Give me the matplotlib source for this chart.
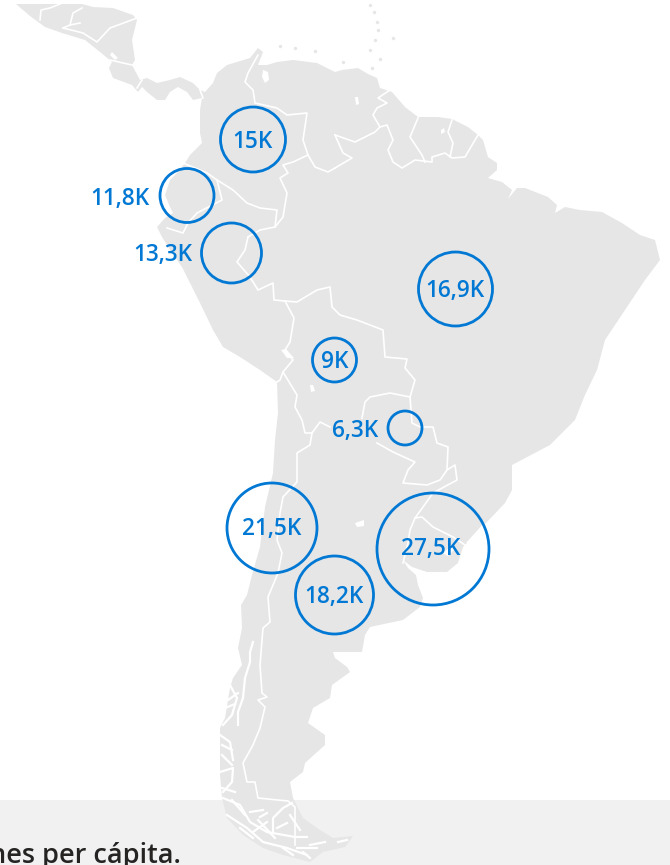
import matplotlib
matplotlib.use('Agg')
import matplotlib.pyplot as plt
from matplotlib.patches import Circle, Polygon

# gdp per capita bubbles (thousands)
values = [15, 11.8, 13.3, 16.9, 9, 6.3, 21.5, 27.5, 18.2]
bubble_x = [253, 187, 231.5, 455.5, 334.5, 405, 272, 433, 334.5]
bubble_y = [139.5, 195.5, 253, 289, 360, 428, 528, 549, 595]
bubble_r = [32.5, 27, 30, 37, 22, 17, 45, 56, 39]
label_x = [252, 120, 162.5, 455, 334.5, 355, 272, 431, 334.5]
label_y = [141.5, 198.5, 254.5, 290.5, 361.5, 430.5, 529.5, 549.5, 596.5]

# map traced in picture pixels
land = [(16,4),(30,16),(45,27),(62,33),(85,40),(100,52),(112,62),(109,68),(113,78),(132,85),(138,92),(142,87),
 (147,92),(157,100),(165,100),(170,92),(178,87),(187,92),(193,100),(202,98),(200,110),(200,133),(202,143),(190,155),
 (185,163),(178,172),(170,180),(165,195),(170,207),(173,213),(165,218),(157,227),(162,237),(170,250),(182,267),(190,283),
 (202,307),(213,330),(223,347),(240,357),(260,370),(277,382),(278,413),(275,440),(273,473),(265,507),(260,547),(252,575),
 (247,595),(241,605),(242,628),(238,648),(242,665),(233,678),(230,688),(225,718),(220,728),(220,752),(220,775),(222,798),
 (227,818),(243,835),(263,848),(283,855),(310,862),(323,852),(345,847),(353,836),(333,838),(317,828),(303,818),(293,798),
 (290,782),(303,772),(305,763),(325,745),(325,735),(308,723),(313,708),(330,698),(332,685),(350,672),(347,667),(335,658),
 (333,652),(362,652),(365,635),(370,627),(403,620),(420,607),(423,598),(418,585),(416,575),(408,568),(403,560),(412,567),
 (427,572),(447,572),(458,563),(463,547),(473,537),(487,522),(505,503),(512,490),(512,465),(550,445),(575,420),(585,395),
 (597,370),(605,340),(625,310),(645,280),(660,260),(655,240),(640,235),(622,223),(602,212),(580,210),(565,207),(555,213),
 (557,205),(548,197),(525,188),(517,188),(508,199),(512,190),(502,182),(488,178),(497,170),(497,163),(488,157),(483,140),
 (478,135),(468,127),(452,119),(438,117),(418,117),(405,107),(392,92),(380,88),(377,78),(368,74),(358,68),(342,70),
 (335,72),(317,63),(293,60),(277,62),(267,65),(258,65),(263,52),(258,48),(250,58),(227,65),(217,73),(213,83),
 (205,92),(200,90),(193,83),(180,77),(170,80),(157,83),(147,78),(140,80),(132,65),(135,60),(132,40),(137,20),(133,15),
 (113,8),(93,7),(82,4)]

borders = [
 [(40,20),(41,10),(50,8),(60,4)],
 [(63,28),(70,25),(80,23)],
 [(70,25),(73,13),(82,8)],
 [(63,28),(83,33),(97,42),(110,28),(137,18)],
 [(110,60),(132,65)],
 [(137,88),(142,80)],
 [(200,90),(203,98)],
 [(258,55),(248,73),(245,82),(253,90),(255,103),(277,108),(287,115),(307,113),(303,140),(308,155),(315,167),(328,172),(335,168)],
 [(308,155),(293,162),(283,165),(288,173),(280,178),(287,193),(283,217),(275,227),(260,230),(248,237)],
 [(183,163),(207,173),(217,180),(233,190),(247,203),(260,208),(277,210),(275,227)],
 [(217,180),(222,200),(197,213),(188,223),(183,233),(167,228)],
 [(248,237),(245,250),(237,262),(250,277),(258,290),(273,283),(274,300),(285,301)],
 [(285,301),(294,318),(290,342),(285,350),(293,360),(283,372),(280,380),(277,382)],
 [(285,301),(297,302),(317,290),(330,287),(332,307),(340,315),(357,320),(383,330),(385,357),(407,359),(405,368),(415,380),(410,397)],
 [(283,372),(297,395),(295,407),(302,420),(305,433),(312,433),(320,422),(330,427)],
 [(362,418),(365,402),(370,397),(390,393),(410,397),(412,423),(420,427),(433,427),(437,443),(448,447),(447,470),(440,480),(427,485),(403,483),(408,470),(415,462),(393,452),(377,443)],
 [(447,470),(455,465),(457,480),(433,493),(423,507),(415,518),(410,530),(408,543),(403,563)],
 [(415,518),(422,517),(433,527),(453,537),(465,545)],
 [(312,433),(310,445),(297,453),(297,473),(297,482),(283,497),(280,513),(277,540),(282,553),(278,573),(268,597),(270,622),(263,628),(260,665),(262,693),(267,697),(258,700),(265,707),(260,728),(253,745),(243,763),(247,782),(255,782),(258,798),(288,801),(295,807),(295,845)],
 [(335,135),(355,142),(375,132),(380,127),(373,115),(377,108),(387,103),(378,98),(390,90)],
 [(335,135),(343,153),(352,158),(335,168)],
 [(380,127),(387,125),(393,140),(388,150),(393,162),(402,168),(415,160),(432,162),(432,157),(445,153),(452,158),(465,157),(478,135)],
 [(418,118),(410,137),(422,155),(425,162)],
 [(452,120),(448,132),(453,143),(450,157)],
]

fjords = [
 [(253,642),(250,652),(250,662),(245,678),(243,698),(238,712),(238,725)],
 [(230,685),(237,698),(232,715),(223,725)],
 [(220,735),(230,742),(233,760)],
 [(220,772),(233,768),(232,782),(223,792)],
 [(223,798),(240,805),(250,822),(267,832),(295,837),(307,837)],
 [(227,815),(247,828),(263,842),(287,848),(307,855)],
 [(273,832),(273,818),(283,808),(292,803)],
 [(250,812),(263,810)],
 [(260,817),(267,813)],
 [(283,848),(293,855)],
 [(297,848),(317,848)],
 [(303,852),(310,858)],
 [(338,842),(347,840)],
 [(240,828),(253,838)],
 [(253,832),(267,822)],
 [(277,828),(287,823)],
 [(228,700),(238,693)],
 [(225,708),(235,704)],
 [(222,745),(232,750)],
 [(222,755),(232,765)],
 [(222,788),(235,792)],
 [(232,800),(245,815)],
 [(258,820),(275,838)],
 [(290,815),(300,830)],
 [(310,845),(325,842)],
]

lakes = [
 [(112,52),(118,58),(115,60),(110,55)],
 [(263,70),(268,72),(269,80),(265,83),(262,77)],
 [(355,97),(358,97),(359,104),(356,105)],
 [(441,130),(444,128),(445,132),(441,134)],
 [(281,350),(286,349),(294,358),(287,358)],
 [(310,385),(313,385),(315,391),(311,392)],
 [(355,523),(364,520),(364,526),(357,527)],
 [(466,543),(484,523),(488,525),(472,544)],
 [(442,553),(452,546),(456,548),(448,556)],
]

island_x = [370,374,377,378,375,370,393,380,343,280,295,315,372]
island_y = [5,12,22,30,40,50,38,59,62,46,48,51,68]

fig = plt.figure(figsize=(6.7, 8.65), dpi=100)
ax = fig.add_axes([0, 0, 1, 1])
ax.set_xlim(0, 670)
ax.set_ylim(865, 0)
ax.axis('off')

ax.axhspan(800, 865, color='#f1f1f1', lw=0, zorder=0)

ax.add_patch(Polygon(land, closed=True, fc='#e6e6e6', ec='none', zorder=1))
ax.scatter(island_x, island_y, s=6, color='#e6e6e6', lw=0, zorder=1)

for b in borders:
    ax.plot([p[0] for p in b], [p[1] for p in b], color='white', lw=1.2, zorder=2, solid_joinstyle='round')
for f in fjords:
    ax.plot([p[0] for p in f], [p[1] for p in f], color='white', lw=1.6, zorder=2)
for l in lakes:
    ax.add_patch(Polygon(l, closed=True, fc='white', ec='none', zorder=2))

for x, y, r in zip(bubble_x, bubble_y, bubble_r):
    ax.add_patch(Circle((x, y), r, fc='none', ec='#0078d4', lw=2.0, zorder=3))

for v, x, y in zip(values, label_x, label_y):
    txt = ('%g' % v).replace('.', ',') + 'K'
    ax.text(x, y, txt, color='#0078d4', fontsize=16.3, fontweight=600, family='Open Sans',
            ha='center', va='center', zorder=4)

ax.text(181, 862.5, 'nes per cápita.', color='#252423', fontsize=19.5, fontweight=600, family='Open Sans',
        ha='right', va='baseline', zorder=4)

fig.savefig('out.png', dpi=100)
